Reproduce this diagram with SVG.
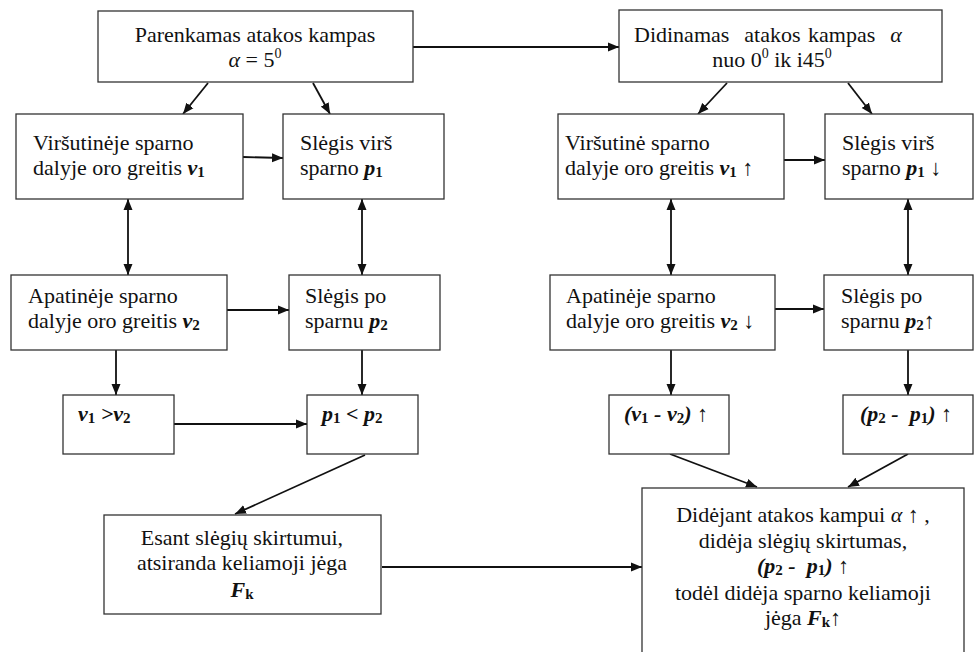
<svg xmlns="http://www.w3.org/2000/svg" width="974" height="652" viewBox="0 0 974 652">
  <style>
    .box { fill: #ffffff; stroke: #333333; stroke-width: 1.3; }
    .t { font-family: "Liberation Serif", "Times New Roman", serif; font-size: 22px; fill: #111111; }
    .c { text-anchor: middle; }
    .v { font-weight: bold; font-style: italic; }
    .s { font-weight: bold; font-style: normal; font-size: 15px; }
    .i { font-style: italic; }
    .sup { font-size: 14px; }
    .edge { fill: none; stroke: #111111; stroke-width: 1.8; }
  </style>
  <defs>
    <marker id="ah" markerUnits="userSpaceOnUse" markerWidth="12" markerHeight="10" refX="11" refY="5" orient="auto-start-reverse">
      <path d="M0,0.5 L11,5 L0,9.5 z" fill="#111111"/>
    </marker>
  </defs>

  <rect width="974" height="652" fill="#ffffff"/>

  <!-- connectors -->
  <g id="connectors">
    <line class="edge" x1="413" y1="47" x2="619" y2="47" marker-end="url(#ah)"/>
    <line class="edge" x1="208" y1="83" x2="183" y2="114" marker-end="url(#ah)"/>
    <line class="edge" x1="313" y1="83" x2="330" y2="114" marker-end="url(#ah)"/>
    <line class="edge" x1="243" y1="157" x2="283" y2="158" marker-end="url(#ah)"/>
    <line class="edge" x1="128" y1="199" x2="128" y2="275" marker-start="url(#ah)" marker-end="url(#ah)"/>
    <line class="edge" x1="362" y1="199" x2="362" y2="275" marker-start="url(#ah)" marker-end="url(#ah)"/>
    <line class="edge" x1="227" y1="310" x2="289" y2="310" marker-end="url(#ah)"/>
    <line class="edge" x1="116" y1="350" x2="116" y2="395" marker-end="url(#ah)"/>
    <line class="edge" x1="362" y1="350" x2="362" y2="395" marker-end="url(#ah)"/>
    <line class="edge" x1="174" y1="424" x2="307" y2="424" marker-end="url(#ah)"/>
    <line class="edge" x1="365" y1="455" x2="235" y2="514" marker-end="url(#ah)"/>
    <line class="edge" x1="382" y1="567" x2="642" y2="567" marker-end="url(#ah)"/>
    <line class="edge" x1="727" y1="83" x2="698" y2="114" marker-end="url(#ah)"/>
    <line class="edge" x1="848" y1="83" x2="872" y2="114" marker-end="url(#ah)"/>
    <line class="edge" x1="784" y1="160" x2="825" y2="160" marker-end="url(#ah)"/>
    <line class="edge" x1="671" y1="199" x2="671" y2="275" marker-start="url(#ah)" marker-end="url(#ah)"/>
    <line class="edge" x1="908" y1="199" x2="908" y2="275" marker-start="url(#ah)" marker-end="url(#ah)"/>
    <line class="edge" x1="775" y1="309" x2="824" y2="309" marker-end="url(#ah)"/>
    <line class="edge" x1="671" y1="350" x2="671" y2="395" marker-end="url(#ah)"/>
    <line class="edge" x1="908" y1="350" x2="908" y2="395" marker-end="url(#ah)"/>
    <line class="edge" x1="670" y1="454" x2="757" y2="487" marker-end="url(#ah)"/>
    <line class="edge" x1="908" y1="454" x2="848" y2="487" marker-end="url(#ah)"/>
  </g>

  <!-- left branch: fixed angle of attack -->
  <g id="n-start">
    <rect class="box" x="98" y="11" width="315" height="71"/>
    <text class="t c" x="255" y="42">Parenkamas atakos kampas</text>
    <text class="t c" x="255" y="67"><tspan class="i">α</tspan> = 5<tspan class="sup" dy="-9">0</tspan></text>
  </g>

  <g id="n-v1">
    <rect class="box" x="16" y="114" width="227" height="85"/>
    <text class="t" x="33" y="150">Viršutinėje sparno</text>
    <text class="t" x="33" y="175">dalyje oro greitis <tspan class="v">v</tspan><tspan class="s" dy="2">1</tspan></text>
  </g>

  <g id="n-p1">
    <rect class="box" x="283" y="114" width="161" height="85"/>
    <text class="t" x="300" y="150">Slėgis virš</text>
    <text class="t" x="300" y="175">sparno <tspan class="v">p</tspan><tspan class="s" dy="2">1</tspan></text>
  </g>

  <g id="n-v2">
    <rect class="box" x="11" y="275" width="216" height="75"/>
    <text class="t" x="28" y="303">Apatinėje sparno</text>
    <text class="t" x="28" y="328">dalyje oro greitis <tspan class="v">v</tspan><tspan class="s" dy="2">2</tspan></text>
  </g>

  <g id="n-p2">
    <rect class="box" x="289" y="275" width="151" height="75"/>
    <text class="t" x="305" y="303">Slėgis po</text>
    <text class="t" x="305" y="328">sparnu <tspan class="v">p</tspan><tspan class="s" dy="2">2</tspan></text>
  </g>

  <g id="n-vcmp">
    <rect class="box" x="63" y="395" width="111" height="59"/>
    <text class="t" x="78" y="421"><tspan class="v">v</tspan><tspan class="s" dy="2">1</tspan><tspan class="v" dy="-2"> &gt;v</tspan><tspan class="s" dy="2">2</tspan></text>
  </g>

  <g id="n-pcmp">
    <rect class="box" x="307" y="395" width="111" height="59"/>
    <text class="t" x="322" y="421"><tspan class="v">p</tspan><tspan class="s" dy="2">1</tspan><tspan class="v" dy="-2"> &lt; p</tspan><tspan class="s" dy="2">2</tspan></text>
  </g>

  <g id="n-lift">
    <rect class="box" x="104" y="515" width="277" height="99"/>
    <text class="t c" x="242" y="545">Esant slėgių skirtumui,</text>
    <text class="t c" x="242" y="570">atsiranda keliamoji jėga</text>
    <text class="t c" x="242" y="597"><tspan class="v">F</tspan><tspan class="s" dy="2">k</tspan></text>
  </g>

  <!-- right branch: increasing angle of attack -->
  <g id="n-increase">
    <rect class="box" x="619" y="10" width="323" height="72"/>
    <text class="t" x="634" y="42" word-spacing="2" xml:space="preserve">Didinamas  atakos kampas  <tspan class="i">α</tspan></text>
    <text class="t c" x="772" y="67">nuo 0<tspan class="sup" dy="-9">0</tspan><tspan dy="9"> ik i45</tspan><tspan class="sup" dy="-9">0</tspan></text>
  </g>

  <g id="n-v1-up">
    <rect class="box" x="558" y="114" width="226" height="85"/>
    <text class="t" x="565" y="150">Viršutinė sparno</text>
    <text class="t" x="565" y="175">dalyje oro greitis <tspan class="v">v</tspan><tspan class="s" dy="2">1</tspan><tspan dy="-2"> ↑</tspan></text>
  </g>

  <g id="n-p1-down">
    <rect class="box" x="825" y="114" width="148" height="85"/>
    <text class="t" x="842" y="150">Slėgis virš</text>
    <text class="t" x="842" y="175">sparno <tspan class="v">p</tspan><tspan class="s" dy="2">1</tspan><tspan dy="-2"> ↓</tspan></text>
  </g>

  <g id="n-v2-down">
    <rect class="box" x="550" y="275" width="225" height="75"/>
    <text class="t" x="566" y="303">Apatinėje sparno</text>
    <text class="t" x="566" y="328">dalyje oro greitis <tspan class="v">v</tspan><tspan class="s" dy="2">2</tspan><tspan dy="-2"> ↓</tspan></text>
  </g>

  <g id="n-p2-up">
    <rect class="box" x="824" y="275" width="149" height="75"/>
    <text class="t" x="841" y="303">Slėgis po</text>
    <text class="t" x="841" y="328">sparnu <tspan class="v">p</tspan><tspan class="s" dy="2">2</tspan><tspan dy="-2">↑</tspan></text>
  </g>

  <g id="n-vdiff">
    <rect class="box" x="609" y="395" width="120" height="59"/>
    <text class="t" x="624" y="421"><tspan class="v">(v</tspan><tspan class="s" dy="2">1</tspan><tspan class="v" dy="-2"> - v</tspan><tspan class="s" dy="2">2</tspan><tspan class="v" dy="-2">)</tspan> ↑</text>
  </g>

  <g id="n-pdiff">
    <rect class="box" x="843" y="395" width="130" height="59"/>
    <text class="t" x="860" y="421" xml:space="preserve"><tspan class="v">(p</tspan><tspan class="s" dy="2">2</tspan><tspan class="v" dy="-2"> -  p</tspan><tspan class="s" dy="2">1</tspan><tspan class="v" dy="-2">)</tspan> ↑</text>
  </g>

  <g id="n-result">
    <rect class="box" x="642" y="488" width="322" height="172"/>
    <text class="t c" x="803" y="522">Didėjant atakos kampui <tspan class="i">α</tspan> ↑ ,</text>
    <text class="t c" x="803" y="548">didėja slėgių skirtumas,</text>
    <text class="t c" x="803" y="573" xml:space="preserve"><tspan class="v">(p</tspan><tspan class="s" dy="2">2</tspan><tspan class="v" dy="-2"> -  p</tspan><tspan class="s" dy="2">1</tspan><tspan class="v" dy="-2">)</tspan> ↑</text>
    <text class="t c" x="803" y="600">todėl didėja sparno keliamoji</text>
    <text class="t c" x="803" y="625">jėga <tspan class="v">F</tspan><tspan class="s" dy="2">k</tspan><tspan dy="-2">↑</tspan></text>
  </g>
</svg>
